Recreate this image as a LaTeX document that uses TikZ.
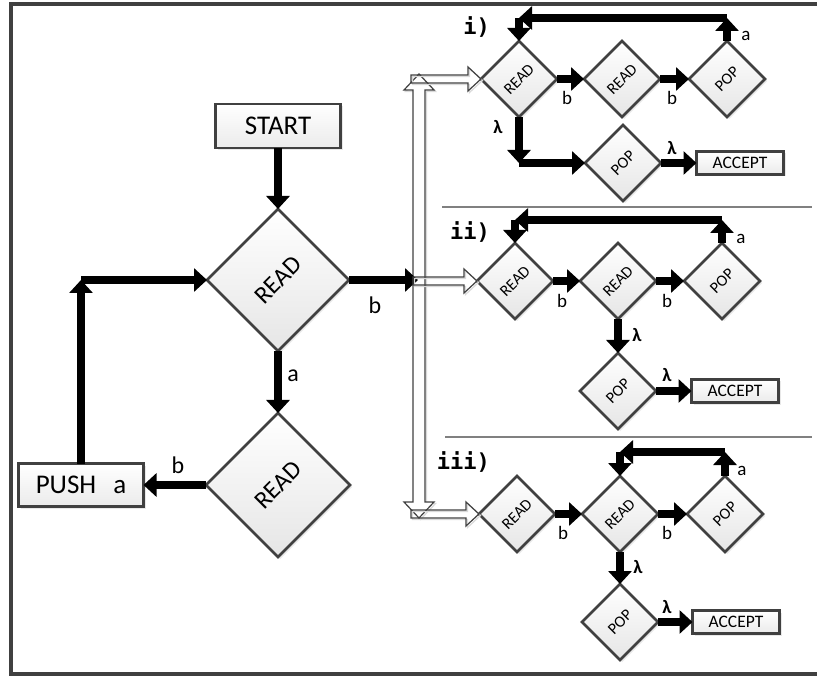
\documentclass[tikz,border=0pt]{standalone}
\usepackage{fontspec}
\setmainfont{Carlito}
\newfontfamily\monofam{DejaVu Sans Mono}
\usetikzlibrary{shapes.geometric,arrows.meta,shadows,calc}
\definecolor{dgray}{HTML}{404040}
\newcommand\hollowH[2]{%
  \draw[hollow] let \p1=(#1), \p2=(#2) in
    (\x1,\y2+4pt) -- (\x2-13pt,\y2+4pt) -- (\x2-13pt,\y2+12pt) -- (\x2,\y2)
    -- (\x2-13pt,\y2-12pt) -- (\x2-13pt,\y2-4pt) -- (\x1,\y2-4pt) -- cycle;}
\begin{document}
\begin{tikzpicture}[x=1pt,y=-1pt,
  dia/.style={diamond, aspect=1, draw=dgray, line width=2.6pt, inner sep=0pt, outer sep=0pt,
    top color=white, bottom color=black!10,
    drop shadow={opacity=0.18,shadow xshift=2pt,shadow yshift=-2pt},
    minimum width=#1, minimum height=#1},
  box/.style={rectangle, draw=dgray, line width=2.6pt, inner sep=0pt, outer sep=0pt,
    top color=white, bottom color=black!8,
    drop shadow={opacity=0.18,shadow xshift=2pt,shadow yshift=-2pt}},
  acc/.style={box, minimum width=87pt, minimum height=23pt, font=\fontsize{17.5}{18}\selectfont},
  sfont/.style={font=\fontsize{16}{16}\selectfont},
  bfont/.style={font=\fontsize{25}{25}\selectfont},
  arr/.style={draw=black, line width=8pt, -{Triangle[width=23pt,length=13pt]}},
  hollow/.style={draw=dgray, line width=1.2pt,
    preaction={draw=black!15, line width=1.2pt, transform canvas={xshift=1.5pt,yshift=-1.5pt}}},
  lab/.style={font=\fontsize{19}{20}\selectfont, inner sep=0pt},
  labbig/.style={font=\fontsize{24}{26}\selectfont, inner sep=0pt},
  lam/.style={font=\fontsize{19}{20}\selectfont\bfseries, inner sep=0pt},
  secl/.style={font=\monofam\bfseries\fontsize{22}{24}\selectfont, anchor=east, inner sep=0pt},
  sep/.style={draw=gray, line width=1.2pt}
]
\useasboundingbox (0,0) rectangle (817,676);
% frame
\draw[dgray, line width=4pt] (830,4) -- (10.5,4) -- (10.5,674) -- (830,674);

% ---------- main flow ----------
\node[box, minimum width=125pt, minimum height=44pt, font=\fontsize{27}{30}\selectfont] (start) at (278,126) {START};
\node[dia=142pt, bfont] (rA) at (278,280) {\rotatebox{45}{READ}};
\node[dia=144pt, bfont] (rB) at (278,485) {\rotatebox{45}{READ}};
\node[box, minimum width=125pt, minimum height=43pt, font=\fontsize{27}{30}\selectfont] (push) at (81,485) {PUSH\hspace{17pt}a};
\coordinate (c0) at (81,280);

\draw[arr] (start.south) -- (rA.north);
\draw[arr] (rA.south) -- (rB.north);
\draw[arr] (rB.west) -- (push.east);
\draw[arr] (push.north) -- (c0);
\draw[arr] (c0) -- (rA.west);

\node[labbig] (lbA) at (375,305) {b};
\node[labbig] (laA) at (293,376) {a};
\node[labbig] (lbB) at (178,465) {b};

% ---------- hollow bus ----------
\coordinate (busT) at (419,74);
\coordinate (busB) at (419,518);
\draw[hollow, fill=white] let \p1=(busT), \p2=(busB) in
  (\x1,\y1) -- (\x1+15pt,\y1-16pt) -- (\x1+6pt,\y1-16pt) -- (\x1+6pt,\y2+16pt)
  -- (\x1+15pt,\y2+16pt) -- (\x2,\y2) -- (\x1-15pt,\y2+16pt) -- (\x1-6pt,\y2+16pt)
  -- (\x1-6pt,\y1-16pt) -- (\x1-15pt,\y1-16pt) -- cycle;
\coordinate (bus2) at (418,280);
\draw[arr] (rA.east) -- (bus2);
\coordinate (h1) at (411,79);
\coordinate (h2) at (413,281);
\coordinate (h3) at (411,514);

% separators
\draw[sep] (442,207) -- (812,207);
\draw[sep] (445,437) -- (812,437);

% ---------- section i ----------
\node[secl] (si) at (490,27) {i)};
\node[dia=76pt, sfont] (i1) at (519,79) {\rotatebox{45}{READ}};
\node[dia=76pt, sfont] (i2) at (622,79) {\rotatebox{45}{READ}};
\node[dia=76pt, sfont] (i3) at (727,79) {\rotatebox{45}{POP}};
\node[dia=76pt, sfont] (i4) at (623,163) {\rotatebox{45}{POP}};
\node[acc] (i5) at (740,163) {ACCEPT};
\coordinate (ia1) at (727,18);
\coordinate (ia2) at (519,18);
\coordinate (il) at (519,163);
\hollowH{h1}{i1.west}
\draw[arr] (i1.east) -- (i2.west);
\draw[arr] (i2.east) -- (i3.west);
\draw[arr] (i3.north) -- (ia1);
\draw[arr] (ia1) -- (ia2);
\draw[arr] (ia2) -- (i1.north);
\draw[arr] (i1.south) -- (il);
\draw[arr] (il) -- (i4.west);
\draw[arr] (i4.east) -- (i5.west);
\node[lab] at (567,98) {b};
\node[lab] at (672,98) {b};
\node[lab] at (746,36) {a};
\node[lam] at (498,127) {λ};
\node[lam] at (672,148) {λ};

% ---------- section ii ----------
\node[secl] (sii) at (490,232) {ii)};
\node[dia=76pt, sfont] (j1) at (515,281) {\rotatebox{45}{READ}};
\node[dia=76pt, sfont] (j2) at (618,281) {\rotatebox{45}{READ}};
\node[dia=76pt, sfont] (j3) at (722,281) {\rotatebox{45}{POP}};
\node[dia=76pt, sfont] (j4) at (618,391) {\rotatebox{45}{POP}};
\node[acc] (j5) at (735,391) {ACCEPT};
\coordinate (ja1) at (722,220);
\coordinate (ja2) at (515,220);
\hollowH{h2}{j1.west}
\draw[arr] (j1.east) -- (j2.west);
\draw[arr] (j2.east) -- (j3.west);
\draw[arr] (j3.north) -- (ja1);
\draw[arr] (ja1) -- (ja2);
\draw[arr] (ja2) -- (j1.north);
\draw[arr] (j2.south) -- (j4.north);
\draw[arr] (j4.east) -- (j5.west);
\node[lab] at (562,301) {b};
\node[lab] at (667,301) {b};
\node[lab] at (741,239) {a};
\node[lam] at (637,335) {λ};
\node[lam] at (667,375) {λ};

% ---------- section iii ----------
\node[secl] (siii) at (490,462) {iii)};
\node[dia=76pt, sfont] (k1) at (517,514) {\rotatebox{45}{READ}};
\node[dia=76pt, sfont] (k2) at (620,514) {\rotatebox{45}{READ}};
\node[dia=76pt, sfont] (k3) at (725,514) {\rotatebox{45}{POP}};
\node[dia=76pt, sfont] (k4) at (620,622) {\rotatebox{45}{POP}};
\node[acc] (k5) at (736,622) {ACCEPT};
\coordinate (ka1) at (725,452);
\coordinate (ka2) at (620,452);
\hollowH{h3}{k1.west}
\draw[arr] (k1.east) -- (k2.west);
\draw[arr] (k2.east) -- (k3.west);
\draw[arr] (k3.north) -- (ka1);
\draw[arr] (ka1) -- (ka2);
\draw[arr] (ka2) -- (k2.north);
\draw[arr] (k2.south) -- (k4.north);
\draw[arr] (k4.east) -- (k5.west);
\node[lab] at (563,533) {b};
\node[lab] at (667,533) {b};
\node[lab] at (742,471) {a};
\node[lam] at (638,567) {λ};
\node[lam] at (667,607) {λ};
\end{tikzpicture}
\end{document}
